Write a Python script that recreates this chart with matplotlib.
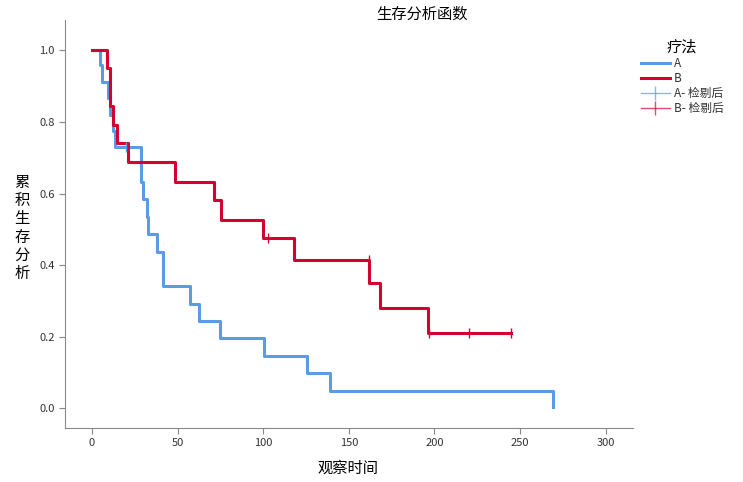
import matplotlib
matplotlib.use("Agg")
import matplotlib.pyplot as plt
from matplotlib.lines import Line2D

plt.rcParams['font.family'] = ['Noto Sans CJK SC', 'DejaVu Sans']

# Group A: step times and survival after each step
a_times = [0, 4.7, 5.6, 9.5, 10.5, 12, 13.5, 28.7, 29.6, 32, 32.5, 37.8, 41.7, 57.3, 62.7, 74.9, 100.5, 125.7, 139, 269]
a_surv = [1.0, 0.958, 0.911, 0.867, 0.82, 0.776, 0.729, 0.632, 0.585, 0.535, 0.488, 0.438, 0.341, 0.292, 0.244, 0.197, 0.147, 0.098, 0.049, 0.005]
a_cens_t = [20]
a_cens_s = [0.729]

# Group B
b_times = [0, 8.6, 10.5, 12.5, 14.8, 20.9, 48.5, 71, 75.4, 99.6, 117.7, 162, 168, 196, 245]
b_surv = [1.0, 0.952, 0.846, 0.793, 0.740, 0.687, 0.633, 0.581, 0.527, 0.475, 0.415, 0.35, 0.28, 0.21, 0.21]
b_cens_t = [103, 162, 197, 220, 245]
b_cens_s = [0.475, 0.415, 0.21, 0.21, 0.21]

cA = '#5a9be3'
cB = '#d5002f'

fig = plt.figure(figsize=(7.43, 4.82), dpi=100)
ax = fig.add_axes([65/743, 1-428/482, (633-65)/743, (428-20)/482])

ax.step(a_times, a_surv, where='post', color=cA, lw=2.2)
ax.step(b_times, b_surv, where='post', color=cB, lw=2.2)
ax.plot(a_cens_t, a_cens_s, '|', color=cA, ms=7, mew=1)
ax.plot(b_cens_t, b_cens_s, '|', color=cB, ms=7, mew=1)

ax.set_xlim(-15.8, 316)
ax.set_ylim(-0.055, 1.085)
ax.set_xticks([0, 50, 100, 150, 200, 250, 300])
ax.set_yticks([0.0, 0.2, 0.4, 0.6, 0.8, 1.0])
ax.set_yticklabels(['0.0', '0.2', '0.4', '0.6', '0.8', '1.0'])
for s in ['top', 'right']:
    ax.spines[s].set_visible(False)
for s in ['left', 'bottom']:
    ax.spines[s].set_color('#888888')
ax.tick_params(colors='#333333', labelsize=8, length=4, color='#888888')

fig.text(422/743, 1 - 14/482, '生存分析函数', ha='center', va='center', fontsize=11)
fig.text(348/743, 1 - 468/482, '观察时间', ha='center', va='center', fontsize=11)
fig.text(22/743, 1 - 228/482, '累\n积\n生\n存\n分\n析', ha='center', va='center', fontsize=11, linespacing=1.1)

handles = [Line2D([], [], color=cA, lw=2.2),
           Line2D([], [], color=cB, lw=2.2),
           Line2D([], [], color=cA, lw=1, marker='|', ms=10, alpha=0.7),
           Line2D([], [], color=cB, lw=1, marker='|', ms=10, alpha=0.7)]
leg = fig.legend(handles, ['A', 'B', 'A- 检剔后', 'B- 检剔后'], title='疗法',
                 loc='upper left', bbox_to_anchor=(630/743, 1 - 28/482), frameon=False,
                 fontsize=8.5, title_fontsize=11, handlelength=2.5, labelspacing=0.15,
                 handletextpad=0.3)
for t in leg.get_texts():
    t.set_color('#333333')

fig.savefig('out.png', dpi=100)
